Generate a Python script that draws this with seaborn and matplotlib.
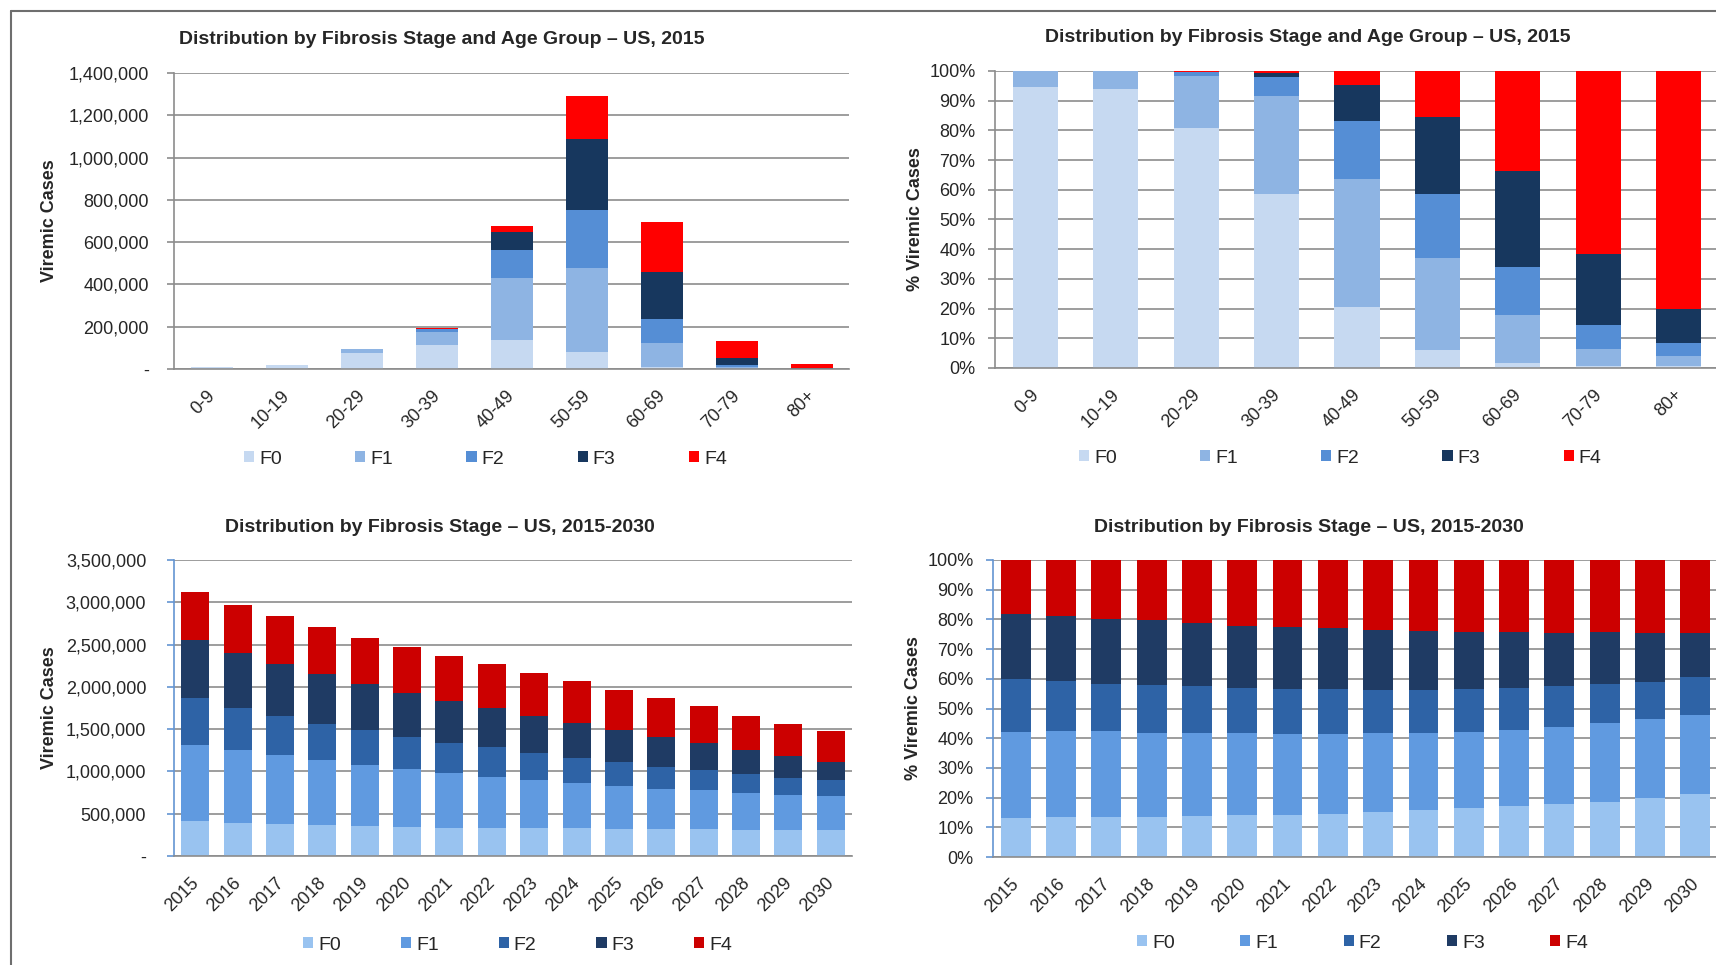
import numpy as np
import matplotlib
matplotlib.use("Agg")
import matplotlib.pyplot as plt
import seaborn as sns
from matplotlib.patches import Patch
from matplotlib.lines import Line2D
from matplotlib.ticker import FuncFormatter
from matplotlib.transforms import ScaledTranslation

sns.set_style('white')
plt.rcParams['font.family'] = ['Liberation Sans', 'DejaVu Sans']

# ---- data: viremic cases by age group, 2015 ----
ages = ['0-9', '10-19', '20-29', '30-39', '40-49', '50-59', '60-69', '70-79', '80+']
age_f0 = [9450, 16900, 76100, 112300, 139000, 80000, 11000, 700, 120]
age_f1 = [550, 1100, 16500, 63400, 292000, 397000, 114000, 7900, 830]
age_f2 = [0, 0, 1100, 12500, 134000, 277000, 112000, 10500, 1060]
age_f3 = [0, 0, 100, 2900, 81500, 335000, 224000, 31200, 2710]
age_f4 = [0, 0, 300, 1000, 32000, 200000, 233000, 80700, 18880]

# ---- data: viremic cases by year, 2015-2030 ----
years = [str(y) for y in range(2015, 2031)]
yr_f0 = [414000, 396000, 378000, 362000, 358000, 347000, 336000, 332000,
         327000, 328000, 324000, 320000, 318000, 310000, 311000, 313000]
yr_f1 = [904000, 856000, 819000, 768000, 720000, 682000, 644000, 608000,
         575000, 534000, 505000, 478000, 458000, 438000, 415000, 393000]
yr_f2 = [552000, 502000, 457000, 436000, 407000, 379000, 358000, 346000,
         314000, 301000, 279000, 260000, 240000, 216000, 196000, 188000]
yr_f3 = [687000, 651000, 620000, 588000, 551000, 516000, 492000, 462000,
         439000, 410000, 379000, 353000, 319000, 293000, 260000, 223000]
yr_f4 = [570000, 557000, 558000, 549000, 545000, 548000, 536000, 523000,
         511000, 494000, 475000, 452000, 434000, 402000, 383000, 362000]

stages = ['F0', 'F1', 'F2', 'F3', 'F4']
top_colors = ['#C6D9F1', '#8EB4E3', '#558ED5', '#17375E', '#FF0000']
bot_colors = ['#99C3F0', '#609AE0', '#2E63A6', '#1F3B64', '#CC0000']

W, H = 1716, 965
GRID = '#8c8c8c'
BLUE_SPINE = '#6495D2'

fig = plt.figure(figsize=(W / 100, H / 100), dpi=100)


def px_axes(x0, y0, x1, y1):
    return fig.add_axes([x0 / W, 1 - y1 / H, (x1 - x0) / W, (y1 - y0) / H])


# Stacked bars: draw cumulative sums from the top layer down
def stacked(ax, cats, layers, colors, width):
    cum = np.cumsum(np.array(layers, dtype=float), axis=0)
    for i in range(len(layers) - 1, -1, -1):
        sns.barplot(x=cats, y=cum[i], color=colors[i], width=width, saturation=1,
                    linewidth=0, errorbar=None, ax=ax, zorder=2)


def count_fmt(v, pos):
    return '-' if v == 0 else '{:,.0f}'.format(v)


def pct_fmt(v, pos):
    return '{:.0f}%'.format(v)


def style(ax, n, ymax, step, fmt, spine_col, ypad, ylabel, ylabel_px):
    ax.set_xlim(-0.5, n - 0.5)
    ax.set_ylim(0, ymax)
    ax.set_yticks(np.arange(0, ymax + step / 2, step))
    ax.yaxis.set_major_formatter(FuncFormatter(fmt))
    ax.set_xticks(np.arange(-0.5, n), minor=True)
    ax.tick_params(axis='x', which='major', length=0, pad=13, labelsize=13)
    ax.tick_params(axis='x', which='minor', length=5, width=1.2, color=GRID, direction='out')
    ax.tick_params(axis='y', length=5, width=1.2, color=spine_col, pad=ypad,
                   labelsize=13, direction='out', left=True)
    for lab in ax.get_xticklabels():
        lab.set_rotation(45)
        lab.set_ha('right')
        lab.set_transform(lab.get_transform() + ScaledTranslation(0.07, 0, fig.dpi_scale_trans))
    ax.grid(axis='y', color=GRID, lw=1.2)
    ax.grid(axis='x', visible=False)
    ax.set_axisbelow(True)
    for s in ['top', 'right']:
        ax.spines[s].set_visible(False)
    ax.spines['left'].set_color(spine_col)
    ax.spines['left'].set_linewidth(1.2)
    ax.spines['bottom'].set_color(GRID)
    ax.spines['bottom'].set_linewidth(1.2)
    ax.set_xlabel('')
    ax.set_ylabel(ylabel, fontsize=13, fontweight='bold')
    ax.yaxis.label.set_va('center')
    bb = ax.get_position()
    ax.yaxis.set_label_coords((ylabel_px / W - bb.x0) / bb.width, 0.5)


def legend(colors, x_px, y_px, spacing):
    handles = [Patch(facecolor=c, edgecolor='none', label=s) for c, s in zip(colors, stages)]
    fig.legend(handles=handles, loc='center left', bbox_to_anchor=(x_px / W, 1 - y_px / H),
               ncol=5, frameon=False, fontsize=14, handlelength=0.52, handleheight=0.52,
               handletextpad=0.26, columnspacing=spacing, borderpad=0, borderaxespad=0)


age_layers = [age_f0, age_f1, age_f2, age_f3, age_f4]
yr_layers = [yr_f0, yr_f1, yr_f2, yr_f3, yr_f4]
age_pct = list(np.array(age_layers, dtype=float) / np.sum(age_layers, axis=0) * 100)
yr_pct = list(np.array(yr_layers, dtype=float) / np.sum(yr_layers, axis=0) * 100)

# top-left: counts by age group
ax1 = px_axes(174, 73, 849, 369)
stacked(ax1, ages, age_layers, top_colors, 0.56)
style(ax1, len(ages), 1400000, 200000, count_fmt, GRID, 13, 'Viremic Cases', 50)

# top-right: share by age group
ax2 = px_axes(995, 71, 1719, 368)
stacked(ax2, ages, age_pct, top_colors, 0.56)
style(ax2, len(ages), 100, 10, pct_fmt, GRID, 9, '% Viremic Cases', 915)

# bottom-left: counts by year
ax3 = px_axes(174, 560, 852, 856)
stacked(ax3, years, yr_layers, bot_colors, 0.66)
style(ax3, len(years), 3500000, 500000, count_fmt, BLUE_SPINE, 15, 'Viremic Cases', 50)

# bottom-right: share by year
ax4 = px_axes(993, 560, 1718, 857)
stacked(ax4, years, yr_pct, bot_colors, 0.66)
style(ax4, len(years), 100, 10, pct_fmt, BLUE_SPINE, 9, '% Viremic Cases', 913)

# titles
fig.text(442 / W, 1 - 39 / H, 'Distribution by Fibrosis Stage and Age Group – US, 2015',
         ha='center', va='center', fontsize=14, fontweight='bold')
fig.text(1308 / W, 1 - 38 / H, 'Distribution by Fibrosis Stage and Age Group – US, 2015',
         ha='center', va='center', fontsize=14, fontweight='bold')
fig.text(440 / W, 1 - 528 / H, 'Distribution by Fibrosis Stage – US, 2015-2030',
         ha='center', va='center', fontsize=14, fontweight='bold')
fig.text(1309 / W, 1 - 527 / H, 'Distribution by Fibrosis Stage – US, 2015-2030',
         ha='center', va='center', fontsize=14, fontweight='bold')

# legends
legend(top_colors, 244, 459, 3.77)
legend(top_colors, 1079, 458, 4.28)
legend(bot_colors, 303, 945, 3.08)
legend(bot_colors, 1137, 943, 3.36)

# outer frame (top and left edges)
fig.add_artist(Line2D([11 / W, 1], [1 - 11 / H, 1 - 11 / H], color='#6e6e6e', lw=1.5))
fig.add_artist(Line2D([11 / W, 11 / W], [0, 1 - 11 / H], color='#6e6e6e', lw=1.5))

fig.savefig('out.png', dpi=100)
